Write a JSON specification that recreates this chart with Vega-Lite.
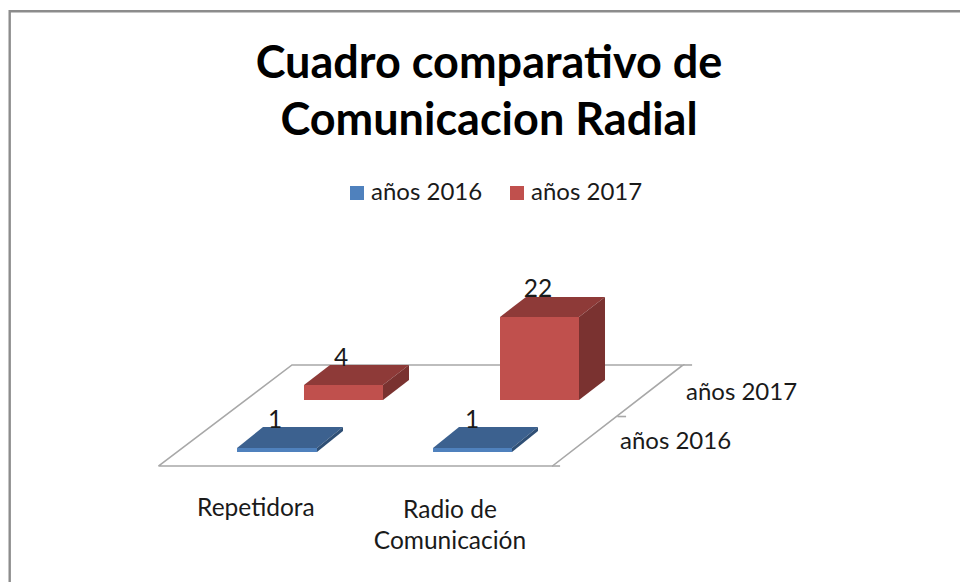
{
"$schema":"https://vega.github.io/schema/vega-lite/v6.json",
"width":960,"height":582,"padding":0,"autosize":"none",
"background":"white",
"config":{"view":{"stroke":null},"font":"Lato"},
"title":{"text":["Cuadro comparativo de","Comunicacion Radial"],"font":"Lato","fontSize":45,"fontWeight":"bold","lineHeight":57,"color":"#000000","anchor":"middle","frame":"group","baseline":"top","dx":9,"dy":144,"offset":0},
"datasets":{
"frame":[{"n":1,"x":-0.7579,"y":-31.03},{"n":2,"x":-0.7579,"y":120.37},{"n":3,"x":4.066,"y":120.37}],
"floor":[
{"edge":"plano","n":1,"x":-0.003,"y":-0.27},{"edge":"plano","n":2,"x":1.997,"y":-0.27},{"edge":"plano","n":3,"x":2.66,"y":26.53},{"edge":"plano","n":4,"x":0.675,"y":26.53},{"edge":"plano","n":5,"x":-0.003,"y":-0.27},
{"edge":"t1","n":1,"x":2.66,"y":26.53},{"edge":"t1","n":2,"x":2.706,"y":26.53},
{"edge":"t2","n":1,"x":2.327,"y":12.86},{"edge":"t2","n":2,"x":2.371,"y":12.86},
{"edge":"t3","n":1,"x":1.995,"y":-0.27},{"edge":"t3","n":2,"x":2.036,"y":-0.27}
],
"front":[
{"series":"años 2017","category":"Repetidora","value":4,"x0":0.736,"x1":1.137,"y0":17.24,"y1":21.22},
{"series":"años 2017","category":"Radio de Comunicación","value":22,"x0":1.731,"x1":2.132,"y0":17.24,"y1":39.26},
{"series":"años 2016","category":"Repetidora","value":1,"x0":0.396,"x1":0.802,"y0":3.45,"y1":4.51},
{"series":"años 2016","category":"Radio de Comunicación","value":1,"x0":1.391,"x1":1.792,"y0":3.45,"y1":4.51}
],
"top":[
{"id":"r1","series":"años 2017","y":21.22,"xa":0.736,"xb":1.137},{"id":"r1","series":"años 2017","y":26.53,"xa":0.868,"xb":1.269},
{"id":"r2","series":"años 2017","y":39.26,"xa":1.731,"xb":2.132},{"id":"r2","series":"años 2017","y":44.56,"xa":1.863,"xb":2.264},
{"id":"b1","series":"años 2016","y":4.51,"xa":0.396,"xb":0.802},{"id":"b1","series":"años 2016","y":10.08,"xa":0.528,"xb":0.934},
{"id":"b2","series":"años 2016","y":4.51,"xa":1.391,"xb":1.792},{"id":"b2","series":"años 2016","y":10.08,"xa":1.523,"xb":1.924}
],
"side":[
{"id":"r1","series":"años 2017","x":1.137,"ya":17.24,"yb":21.22},{"id":"r1","series":"años 2017","x":1.269,"ya":22.55,"yb":26.53},
{"id":"r2","series":"años 2017","x":2.132,"ya":17.24,"yb":39.26},{"id":"r2","series":"años 2017","x":2.264,"ya":22.55,"yb":44.56},
{"id":"b1","series":"años 2016","x":0.802,"ya":3.45,"yb":4.51},{"id":"b1","series":"años 2016","x":0.934,"ya":9.02,"yb":10.08},
{"id":"b2","series":"años 2016","x":1.792,"ya":3.45,"yb":4.51},{"id":"b2","series":"años 2016","x":1.924,"ya":9.02,"yb":10.08}
],
"labels":[
{"t":"1","x":0.589,"y":11.6,"a":"center"},
{"t":"1","x":1.589,"y":11.6,"a":"center"},
{"t":"4","x":0.924,"y":28.2,"a":"center"},
{"t":"22","x":1.924,"y":46.4,"a":"center"},
{"t":"Repetidora","x":0.492,"y":-11.8,"a":"center"},
{"t":"Radio de","x":1.477,"y":-12.1,"a":"center"},
{"t":"Comunicación","x":1.477,"y":-20.3,"a":"center"},
{"t":"años 2017","x":2.675,"y":19.2,"a":"left"},
{"t":"años 2016","x":2.34,"y":6.0,"a":"left"}
]
},
"layer":[
{"data":{"name":"frame"},"mark":{"type":"line","stroke":"#8c8c8c","strokeWidth":2.4,"clip":true},
 "encoding":{"x":{"field":"x","type":"quantitative","scale":{"domain":[-0.80711,4.06599],"nice":false,"zero":false},"axis":null},
  "y":{"field":"y","type":"quantitative","scale":{"domain":[-31.034,123.342],"nice":false,"zero":false},"axis":null},
  "order":{"field":"n"}}},
{"data":{"name":"floor"},"mark":{"type":"line","stroke":"#a8a8a8","strokeWidth":1.6},
 "encoding":{"x":{"field":"x","type":"quantitative"},"y":{"field":"y","type":"quantitative"},
  "detail":{"field":"edge"},"order":{"field":"n"}}},
{"data":{"name":"top"},"transform":[{"filter":"datum.series==='años 2017'"}],"mark":{"type":"area","orient":"horizontal","fill":"#8e3a38"},
 "encoding":{"y":{"field":"y","type":"quantitative"},"x":{"field":"xa","type":"quantitative"},"x2":{"field":"xb"},"detail":{"field":"id"}}},
{"data":{"name":"side"},"transform":[{"filter":"datum.series==='años 2017'"}],"mark":{"type":"area","orient":"vertical","fill":"#7a3230"},
 "encoding":{"x":{"field":"x","type":"quantitative"},"y":{"field":"ya","type":"quantitative"},"y2":{"field":"yb"},"detail":{"field":"id"}}},
{"data":{"name":"top"},"transform":[{"filter":"datum.series==='años 2016'"}],"mark":{"type":"area","orient":"horizontal","fill":"#3c618f"},
 "encoding":{"y":{"field":"y","type":"quantitative"},"x":{"field":"xa","type":"quantitative"},"x2":{"field":"xb"},"detail":{"field":"id"}}},
{"data":{"name":"side"},"transform":[{"filter":"datum.series==='años 2016'"}],"mark":{"type":"area","orient":"vertical","fill":"#2f4f75"},
 "encoding":{"x":{"field":"x","type":"quantitative"},"y":{"field":"ya","type":"quantitative"},"y2":{"field":"yb"},"detail":{"field":"id"}}},
{"data":{"name":"front"},"mark":{"type":"rect"},
 "encoding":{"x":{"field":"x0","type":"quantitative"},"x2":{"field":"x1"},"y":{"field":"y0","type":"quantitative"},"y2":{"field":"y1"},
  "color":{"field":"series","type":"nominal","scale":{"domain":["años 2016","años 2017"],"range":["#4f81bd","#c0504d"]},
   "legend":{"title":null,"orient":"none","legendX":345,"legendY":181,"direction":"horizontal","columns":2,"symbolType":"square","symbolSize":196,"symbolStrokeWidth":0,"labelFont":"Lato","labelFontSize":24,"labelColor":"#1a1a1a","columnPadding":22,"labelOffset":2,"padding":0}}}},
{"data":{"name":"labels"},"transform":[{"filter":"datum.a==='center'"}],"mark":{"type":"text","font":"Lato","fontSize":24.5,"color":"#1a1a1a","align":"center","baseline":"middle"},
 "encoding":{"x":{"field":"x","type":"quantitative"},"y":{"field":"y","type":"quantitative"},"text":{"field":"t"}}},
{"data":{"name":"labels"},"transform":[{"filter":"datum.a==='left'"}],"mark":{"type":"text","font":"Lato","fontSize":24,"color":"#1a1a1a","align":"left","baseline":"middle"},
 "encoding":{"x":{"field":"x","type":"quantitative"},"y":{"field":"y","type":"quantitative"},"text":{"field":"t"}}}
]
}
